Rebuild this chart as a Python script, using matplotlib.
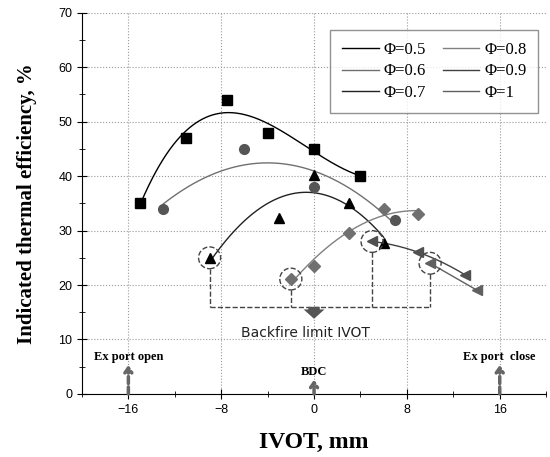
import numpy as np
import matplotlib.pyplot as plt
from matplotlib.patches import Ellipse

# data (IVOT mm, efficiency %)
ivot_05 = [-15, -11, -7.5, -4, 0, 4]
eff_05 = [35, 47, 54, 48, 45, 40]
ivot_06 = [-13, -6, 0, 7]
eff_06 = [34, 45, 38, 32]
ivot_07 = [-9, -3, 0, 3, 6]
eff_07 = [25, 32.3, 40.3, 35.1, 27.8]
ivot_08 = [-2, 0, 3, 6, 9]
eff_08 = [21.1, 23.5, 29.6, 34, 33.1]
ivot_09 = [5, 9, 13]
eff_09 = [28, 26, 21.9]
ivot_10 = [10, 14]
eff_10 = [24, 19.1]

# backfire limit points (circled)
limit_x = [-9, -2, 5, 10]
limit_y = [25, 21.1, 28, 24]

serif = 'Liberation Serif'
sans = 'Liberation Sans'

fig = plt.figure(figsize=(5.5, 4.57), dpi=100)
ax = fig.add_axes([0.149, 0.138, 0.844, 0.834])

series = [
    (ivot_05, eff_05, 3, 's', 'black', 'black', 'Φ=0.5'),
    (ivot_06, eff_06, 2, 'o', '#555555', '#707070', 'Φ=0.6'),
    (ivot_07, eff_07, 2, '^', 'black', '#222222', 'Φ=0.7'),
    (ivot_08, eff_08, 2, 'D', '#707070', '#808080', 'Φ=0.8'),
    (ivot_09, eff_09, 2, '<', '#505050', '#404040', 'Φ=0.9'),
    (ivot_10, eff_10, 1, '<', '#606060', '#606060', 'Φ=1'),
]

for x, y, deg, mk, mc, lc, lab in series:
    coef = np.polyfit(x, y, deg)
    xs = np.linspace(min(x), max(x), 200)
    ax.plot(xs, np.polyval(coef, xs), color=lc, lw=1, label=lab)
    ms = 7 if mk != 'D' else 6
    ax.plot(x, y, ls='none', marker=mk, color=mc, ms=ms, zorder=3)

# backfire limit circles and bracket
base = 16
for x, y in zip(limit_x, limit_y):
    ax.add_patch(Ellipse((x, y), 1.9, 4.0, fill=False, ls='--', lw=1, color='#444444', zorder=4))
    ax.plot([x, x], [y - 2, base], ls='--', lw=1, color='#444444')
ax.plot([min(limit_x), max(limit_x)], [base, base], ls='--', lw=1, color='#444444')
ax.annotate('', xy=(0, 13.8), xytext=(0, base),
            arrowprops=dict(arrowstyle='simple,head_width=1.0,head_length=0.45,tail_width=0.55',
                            color='#555555', lw=0, shrinkA=0, shrinkB=0, mutation_scale=15))
ax.text(-0.7, 11.2, 'Backfire limit IVOT', ha='center', va='center', fontsize=10,
        family='DejaVu Sans', color='#222222')

# port events
for x, top, txt, ty in [(-16, 5.3, 'Ex port open', 6.8), (0, 2.6, 'BDC', 4.0), (16, 5.3, 'Ex port  close', 6.8)]:
    ax.annotate('', xy=(x, top), xytext=(x, 0),
                arrowprops=dict(arrowstyle='->,head_width=0.25,head_length=0.35', ls=(0, (2, 1)),
                                lw=2.5, color='#666666', shrinkA=0, shrinkB=0))
    ax.text(x, ty, txt, ha='center', va='center', fontsize=9, family=serif, fontweight='bold')

ax.set_xlim(-20, 20)
ax.set_ylim(0, 70)
ax.set_xticks([-16, -8, 0, 8, 16])
ax.set_xticks([-20, -12, -4, 4, 12, 20], minor=True)
ax.set_yticks(range(0, 71, 10))
ax.set_yticks(range(5, 70, 10), minor=True)
ax.tick_params(which='both', direction='inout', labelsize=9)
ax.tick_params(which='major', length=7)
ax.tick_params(which='minor', length=5)
for t in ax.get_xticklabels() + ax.get_yticklabels():
    t.set_family(sans)
ax.spines['top'].set_visible(False)
ax.spines['right'].set_visible(False)
ax.grid(True, ls=':', lw=0.8, color='#999999')

ax.set_xlabel('IVOT, mm', family=serif, fontweight='bold', fontsize=17, labelpad=12)
ax.set_ylabel('Indicated thermal efficiency, %', family=serif, fontweight='bold', fontsize=15, labelpad=15)

leg = ax.legend(ncol=2, loc='upper right', bbox_to_anchor=(0.983, 0.955),
                prop={'family': serif, 'size': 12}, fancybox=False, edgecolor='#777777',
                handlelength=2.2, handletextpad=0.3, columnspacing=1.0, labelspacing=0.35,
                borderpad=0.7, borderaxespad=0)
leg.get_frame().set_linewidth(1)

plt.savefig('out.png', dpi=100)
